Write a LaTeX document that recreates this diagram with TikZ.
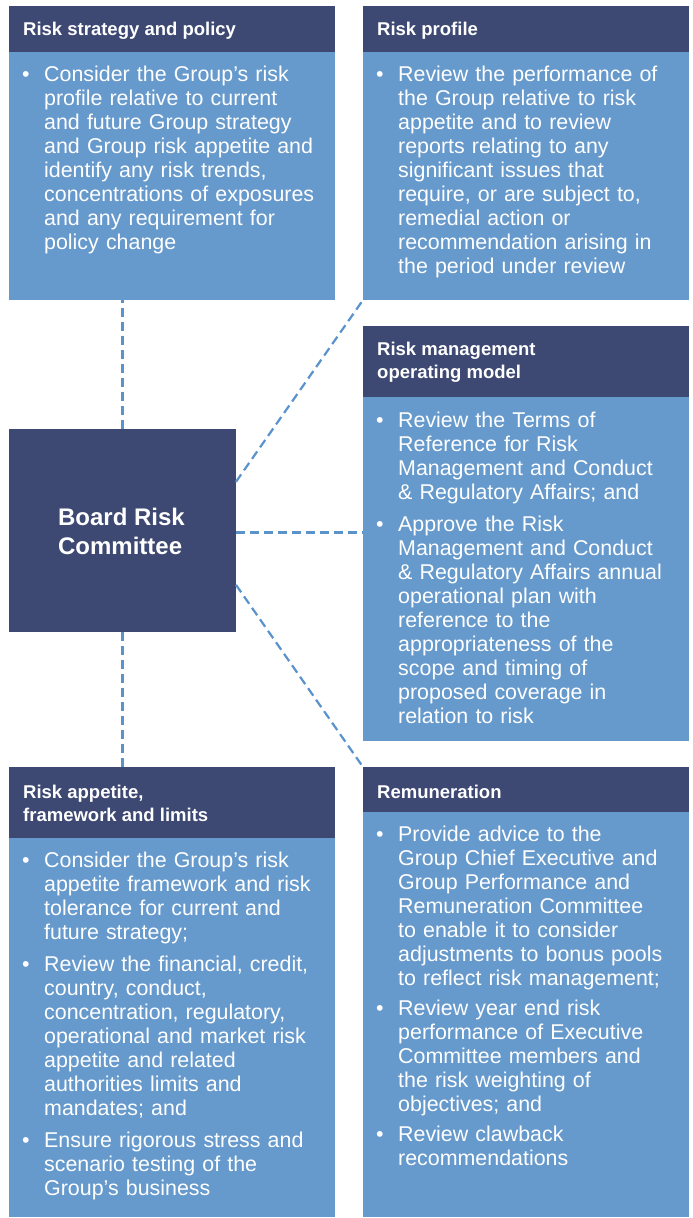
\documentclass[tikz,border=0pt]{standalone}
\usepackage{fontspec}
\setmainfont{Liberation Sans}
\usetikzlibrary{calc}
\definecolor{hdrblue}{RGB}{61,72,115}
\definecolor{bodyblue}{RGB}{102,153,204}
\definecolor{dashblue}{RGB}{90,146,204}
\newcommand{\myitem}{\noindent\hspace*{-22pt}\makebox[22pt][l]{\rule{0pt}{18pt}\textbullet}}
\begin{document}
\begin{tikzpicture}[x=1pt,y=-1pt,
  hdrbox/.style={fill=hdrblue, draw=none, inner sep=0pt, outer sep=0pt, anchor=north west, minimum width=326pt},
  bodybox/.style={fill=bodyblue, draw=none, inner sep=0pt, outer sep=0pt, anchor=north west, minimum width=326pt},
  hdrtext/.style={text=white, font=\fontsize{18.5}{23}\selectfont\bfseries, align=left, anchor=west, inner sep=0pt},
  bodytext/.style={text=white, font=\fontsize{21.4}{24}\selectfont, text width=300pt, align=left, anchor=north west, inner sep=0pt},
  conn/.style={draw=dashblue, line width=2.2pt, dash pattern=on 9pt off 5pt}
]
\fill[white] (0,0) rectangle (693,1218);
\useasboundingbox (0,0) rectangle (693,1218);

% boxes
\node[hdrbox, minimum height=46pt] (h1) at (9,6) {};
\node[bodybox, minimum height=248pt] (b1) at (9,52) {};
\node[hdrbox, minimum height=46pt] (h2) at (363,6) {};
\node[bodybox, minimum height=248pt] (b2) at (363,52) {};
\node[hdrbox, minimum height=71pt] (h3) at (363,326) {};
\node[bodybox, minimum height=344pt] (b3) at (363,397) {};
\node[fill=hdrblue, draw=none, inner sep=0pt, outer sep=0pt, anchor=north west, minimum width=227pt, minimum height=203pt] (brc) at (9,429) {};
\node[hdrbox, minimum height=71pt] (h4) at (9,767) {};
\node[bodybox, minimum height=379pt] (b4) at (9,838) {};
\node[hdrbox, minimum height=45pt] (h5) at (363,767) {};
\node[bodybox, minimum height=405pt] (b5) at (363,812) {};

% headers
\node[hdrtext] (t1) at ($(h1.west)+(14,2)$) {Risk strategy and policy};
\node[hdrtext] (t2) at ($(h2.west)+(14,2)$) {Risk profile};
\node[hdrtext] (t3) at ($(h3.west)+(14,1)$) {Risk management\\operating model};
\node[hdrtext] (t4) at ($(h4.west)+(14,1)$) {Risk appetite,\\framework and limits};
\node[hdrtext] (t5) at ($(h5.west)+(14,2)$) {Remuneration};

% board
\node[text=white, font=\fontsize{24}{29}\selectfont\bfseries, align=left, inner sep=0pt] (brct) at ($(brc.center)+(-1,1)$) {Board Risk\\Committee};

% bodies
\node[bodytext] (x1) at ($(b1.north west)+(13,11)$) {\leftskip=22pt
\myitem Consider the Group's risk\\
profile relative to current\\
and future Group strategy\\
and Group risk appetite and\\
identify any risk trends,\\
concentrations of exposures\\
and any requirement for\\
policy change\par};

\node[bodytext] (x2) at ($(b2.north west)+(13,11)$) {\leftskip=22pt
\myitem Review the performance of\\
the Group relative to risk\\
appetite and to review\\
reports relating to any\\
significant issues that\\
require, or are subject to,\\
remedial action or\\
recommendation arising in\\
the period under review\par};

\node[bodytext] (x3) at ($(b3.north west)+(13,12)$) {\leftskip=22pt
\myitem Review the Terms of\\
Reference for Risk\\
Management and Conduct\\
\& Regulatory Affairs; and\\[8pt]
\myitem Approve the Risk\\
Management and Conduct\\
\& Regulatory Affairs annual\\
operational plan with\\
reference to the\\
appropriateness of the\\
scope and timing of\\
proposed coverage in\\
relation to risk\par};

\node[bodytext] (x4) at ($(b4.north west)+(13,11)$) {\leftskip=22pt
\myitem Consider the Group's risk\\
appetite framework and risk\\
tolerance for current and\\
future strategy;\\[8pt]
\myitem Review the financial, credit,\\
country, conduct,\\
concentration, regulatory,\\
operational and market risk\\
appetite and related\\
authorities limits and\\
mandates; and\\[8pt]
\myitem Ensure rigorous stress and\\
scenario testing of the\\
Group's business\par};

\node[bodytext] (x5) at ($(b5.north west)+(13,11)$) {\leftskip=22pt
\myitem Provide advice to the\\
Group Chief Executive and\\
Group Performance and\\
Remuneration Committee\\
to enable it to consider\\
adjustments to bonus pools\\
to reflect risk management;\\[6pt]
\myitem Review year end risk\\
performance of Executive\\
Committee members and\\
the risk weighting of\\
objectives; and\\[6pt]
\myitem Review clawback\\
recommendations\par};

% connectors
\coordinate (p1) at ($(brc.north east)!0.26!(brc.south east)$);
\coordinate (p2) at ($(brc.north east)!0.51!(brc.south east)$);
\coordinate (p3) at ($(brc.north east)!0.768!(brc.south east)$);
\draw[conn] (brc.north) -- (brc.north |- b1.south);
\draw[conn] (p1) -- (b2.south west);
\draw[conn] (p2) -- (p2 -| b3.west);
\draw[conn] (p3) -- (h5.north west);
\draw[conn] (brc.south) -- (brc.south |- h4.north);
\end{tikzpicture}
\end{document}
